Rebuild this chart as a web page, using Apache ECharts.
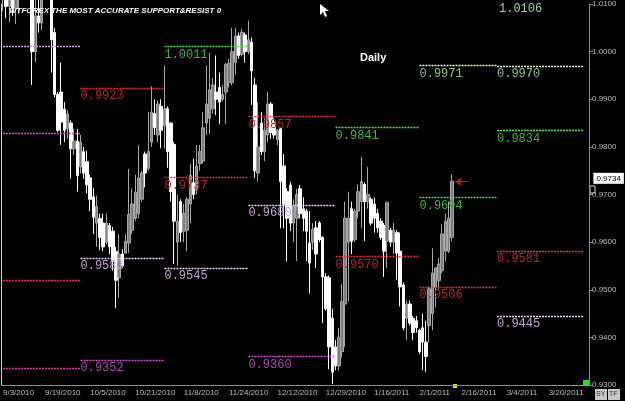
<!DOCTYPE html>
<html>
<head>
<meta charset="utf-8">
<script src="https://cdn.jsdelivr.net/npm/echarts@6.0.0/dist/echarts.min.js"></script>
<style>
  html, body { margin: 0; padding: 0; background: #000; }
  #chart { width: 625px; height: 401px; }
</style>
</head>
<body>
<div id="chart"></div>
<script>
// daily bars, 6 per week (Sun-Fri), 9/3/2010 is slot 0
var barCount = 182;
var tickPos = [0, 13, 27, 41, 56, 70, 85, 100, 115, 129, 142, 156, 169];
var tickLabels = ['9/3/2010', '9/19/2010', '10/5/2010', '10/21/2010', '11/8/2010', '11/24/2010',
  '12/12/2010', '12/29/2010', '1/16/2011', '2/1/2011', '2/16/2011', '3/4/2011', '3/20/2011'];

var opens = [
  1.0130, 1.0160, 1.0095, 1.0140, 1.0090, 1.0120, 1.0155, 1.0180, 1.0195, 1.0150,
  1.0000, 1.0075, 1.0060, 1.0120, 1.0160, 1.0130, 1.0040, 0.9910, 0.9915, 0.9879,
  0.9838, 0.9850, 0.9796, 0.9812, 0.9758, 0.9790, 0.9769, 0.9735, 0.9695, 0.9640,
  0.9650, 0.9640, 0.9600, 0.9635, 0.9623, 0.9580, 0.9525, 0.9575, 0.9577, 0.9598,
  0.9625, 0.9650, 0.9660, 0.9690, 0.9785, 0.9755, 0.9810, 0.9870, 0.9825, 0.9885,
  0.9845, 0.9880, 0.9850, 0.9805, 0.9600, 0.9685, 0.9623, 0.9625, 0.9680, 0.9725,
  0.9710, 0.9765, 0.9770, 0.9850, 0.9860, 0.9880, 0.9915, 0.9925, 0.9900, 0.9915,
  0.9935, 0.9935, 0.9977, 1.0033, 0.9994, 1.0035, 1.0000, 1.0020, 0.9930, 0.9745,
  0.9850, 0.9790, 0.9825, 0.9890, 0.9852, 0.9815, 0.9838, 0.9760, 0.9706, 0.9720,
  0.9640, 0.9650, 0.9712, 0.9670, 0.9665, 0.9598, 0.9600, 0.9630, 0.9640, 0.9610,
  0.9527, 0.9525, 0.9440, 0.9380, 0.9340, 0.9370, 0.9470, 0.9600, 0.9670, 0.9605,
  0.9665, 0.9685, 0.9721, 0.9685, 0.9690, 0.9680, 0.9660, 0.9644, 0.9635, 0.9602,
  0.9625, 0.9600, 0.9620, 0.9581, 0.9510, 0.9440, 0.9470, 0.9440, 0.9435, 0.9415,
  0.9420, 0.9390, 0.9425, 0.9450, 0.9505, 0.9519, 0.9540, 0.9581, 0.9581, 0.9610
];
var closes = [
  1.0160, 1.0095, 1.0140, 1.0090, 1.0120, 1.0155, 1.0180, 1.0195, 1.0150, 1.0000,
  1.0075, 1.0060, 1.0120, 1.0160, 1.0130, 1.0025, 0.9910, 0.9835, 0.9852, 0.9835,
  0.9869, 0.9796, 0.9812, 0.9740, 0.9810, 0.9745, 0.9720, 0.9690, 0.9652, 0.9675,
  0.9610, 0.9590, 0.9640, 0.9590, 0.9560, 0.9520, 0.9575, 0.9550, 0.9602, 0.9658,
  0.9680, 0.9705, 0.9735, 0.9745, 0.9745, 0.9790, 0.9873, 0.9840, 0.9890, 0.9835,
  0.9880, 0.9790, 0.9706, 0.9644, 0.9644, 0.9620, 0.9660, 0.9690, 0.9740, 0.9700,
  0.9760, 0.9790, 0.9840, 0.9890, 0.9920, 0.9930, 0.9900, 0.9894, 0.9910, 0.9973,
  0.9975, 1.0000, 1.0033, 0.9992, 1.0040, 1.0000, 1.0025, 0.9960, 0.9750, 0.9800,
  0.9790, 0.9835, 0.9890, 0.9830, 0.9825, 0.9835, 0.9727, 0.9680, 0.9650, 0.9640,
  0.9675, 0.9700, 0.9660, 0.9650, 0.9623, 0.9556, 0.9627, 0.9575, 0.9605, 0.9527,
  0.9460, 0.9380, 0.9327, 0.9340, 0.9400, 0.9475, 0.9650, 0.9650, 0.9602, 0.9665,
  0.9706, 0.9727, 0.9685, 0.9700, 0.9640, 0.9650, 0.9630, 0.9610, 0.9581, 0.9683,
  0.9600, 0.9625, 0.9577, 0.9506, 0.9420, 0.9470, 0.9430, 0.9410, 0.9420, 0.9370,
  0.9390, 0.9360, 0.9502, 0.9535, 0.9546, 0.9554, 0.9617, 0.9644, 0.9650, 0.9728
];
var lows = [
  1.0085, 1.0070, 1.0062, 1.0075, 1.0058, 1.0080, 1.0120, 1.0140, 1.0135, 0.9930,
  0.9978, 1.0040, 1.0045, 1.0110, 1.0108, 0.9956, 0.9904, 0.9831, 0.9804, 0.9810,
  0.9817, 0.9733, 0.9783, 0.9706, 0.9744, 0.9733, 0.9702, 0.9665, 0.9617, 0.9590,
  0.9583, 0.9581, 0.9595, 0.9575, 0.9540, 0.9461, 0.9483, 0.9545, 0.9575, 0.9577,
  0.9617, 0.9644, 0.9650, 0.9685, 0.9715, 0.9750, 0.9800, 0.9825, 0.9810, 0.9797,
  0.9796, 0.9756, 0.9685, 0.9554, 0.9550, 0.9600, 0.9600, 0.9581, 0.9640, 0.9690,
  0.9700, 0.9750, 0.9765, 0.9825, 0.9827, 0.9870, 0.9867, 0.9848, 0.9896, 0.9848,
  0.9925, 0.9929, 0.9952, 0.9985, 0.9990, 0.9977, 0.9995, 0.9888, 0.9735, 0.9727,
  0.9783, 0.9770, 0.9810, 0.9817, 0.9817, 0.9804, 0.9629, 0.9629, 0.9560, 0.9623,
  0.9600, 0.9560, 0.9650, 0.9623, 0.9560, 0.9492, 0.9583, 0.9546, 0.9600, 0.9430,
  0.9456, 0.9333, 0.9302, 0.9331, 0.9330, 0.9358, 0.9380, 0.9475, 0.9575, 0.9600,
  0.9650, 0.9630, 0.9602, 0.9670, 0.9635, 0.9620, 0.9620, 0.9605, 0.9527, 0.9546,
  0.9590, 0.9575, 0.9521, 0.9465, 0.9415, 0.9394, 0.9425, 0.9394, 0.9410, 0.9365,
  0.9331, 0.9327, 0.9390, 0.9415, 0.9463, 0.9502, 0.9535, 0.9560, 0.9577, 0.9602
];
var highs = [
  1.0175, 1.0190, 1.0150, 1.0165, 1.0130, 1.0170, 1.0195, 1.0215, 1.0230, 1.0165,
  1.0110, 1.0140, 1.0140, 1.0180, 1.0175, 1.0145, 1.0050, 0.9915, 0.9977, 0.9894,
  0.9877, 0.9856, 0.9838, 0.9838, 0.9825, 0.9800, 0.9792, 0.9742, 0.9714, 0.9698,
  0.9660, 0.9660, 0.9660, 0.9640, 0.9632, 0.9590, 0.9617, 0.9585, 0.9617, 0.9754,
  0.9712, 0.9742, 0.9804, 0.9750, 0.9790, 0.9873, 0.9927, 0.9900, 0.9897, 0.9900,
  0.9971, 0.9885, 0.9852, 0.9810, 0.9700, 0.9690, 0.9680, 0.9694, 0.9765, 0.9775,
  0.9804, 0.9804, 0.9873, 0.9971, 0.9998, 0.9945, 0.9992, 0.9956, 0.9930, 0.9977,
  0.9985, 1.0050, 1.0050, 1.0040, 1.0048, 1.0040, 1.0065, 1.0030, 0.9945, 0.9894,
  0.9873, 0.9860, 0.9915, 0.9894, 0.9860, 0.9838, 0.9840, 0.9785, 0.9713, 0.9727,
  0.9690, 0.9712, 0.9720, 0.9694, 0.9670, 0.9665, 0.9640, 0.9644, 0.9644, 0.9612,
  0.9535, 0.9530, 0.9460, 0.9394, 0.9420, 0.9512, 0.9685, 0.9706, 0.9685, 0.9670,
  0.9721, 0.9779, 0.9725, 0.9758, 0.9694, 0.9694, 0.9670, 0.9650, 0.9640, 0.9685,
  0.9630, 0.9640, 0.9625, 0.9620, 0.9515, 0.9477, 0.9477, 0.9445, 0.9445, 0.9418,
  0.9450, 0.9435, 0.9506, 0.9587, 0.9546, 0.9567, 0.9637, 0.9660, 0.9685, 0.9742
];
var lastPrice = 0.9734;
var topLevelText = '1.0106';

// monthly support / resistance levels
var monthStart = [0, 24, 50, 76, 103, 129, 153, 180];
var levelMonth = [0, 0, 0, 0, 1, 1, 1, 2, 2, 2, 3, 3, 3, 4, 4, 5, 5, 5, 6, 6, 6, 6];
var levelValue = [1.0012, 0.9828, 0.9520, 0.9335,
  0.9923, 0.9567, 0.9352,
  1.0011, 0.9736, 0.9545,
  0.9864, 0.9678, 0.9360,
  0.9841, 0.9570,
  0.9971, 0.9694, 0.9506,
  0.9970, 0.9834, 0.9581, 0.9445];
var levelText = ['', '', '', '',
  '0.9923', '0.9583', '0.9352',
  '1.0011', '0.9737', '0.9545',
  '0.9857', '0.9680', '0.9360',
  '0.9841', '0.9570',
  '0.9971', '0.9694', '0.9506',
  '0.9970', '0.9834', '0.9581', '0.9445'];
var levelKind = ['s1', 's2', 's3', 's4',
  'r', 'l', 'm',
  'g', 'r', 'l',
  'r', 'l', 'm',
  'g', 'r',
  'c', 'g', 'r',
  'c', 'g', 'r', 'l'];

var kindStyle = {
  s1: { line: '#e0a0f0', text: '#e0a0f0' },
  s2: { line: '#e040e0', text: '#e040e0' },
  s3: { line: '#e03070', text: '#e03070' },
  s4: { line: '#dd33aa', text: '#dd33aa' },
  r: { line: '#e83434', text: '#b02a2a' },
  l: { line: '#f4d8ff', text: '#c8a0d8' },
  m: { line: '#d850d8', text: '#a848b0' },
  g: { line: '#4ee84e', text: '#48b048' },
  c: { line: '#fafad8', text: '#98c078' }
};

var categories = [];
for (var i = 0; i < barCount; i++) categories.push('b' + i);

var candles = opens.map(function (o, k) {
  return [o, closes[k], lows[k], highs[k]];
});

var lines = levelValue.map(function (v, k) {
  var st = kindStyle[levelKind[k]];
  var m = levelMonth[k];
  return [{
    coord: [monthStart[m], v],
    lineStyle: { color: st.line, type: [2, 1], width: 1.4 },
    label: {
      show: levelText[k] !== '',
      formatter: levelText[k],
      position: 'insideStartBottom',
      color: st.text,
      distance: [0, 2],
      fontFamily: 'Liberation Mono',
      fontSize: 12
    }
  }, { coord: [monthStart[m + 1], v] }];
});

// current price tag at the axis
lines.push([{
  coord: [150, lastPrice],
  lineStyle: { color: 'rgba(0,0,0,0)', width: 0 },
  label: {
    show: true, position: 'end', formatter: lastPrice.toFixed(4),
    backgroundColor: '#fff', color: '#000', padding: [2, 3, 1, 3],
    fontFamily: 'Liberation Sans', fontSize: 8, distance: 6
  }
}, { coord: [181, lastPrice] }]);
// the little arrow next to the last bar
lines.push([{
  coord: [140, 0.9727],
  symbol: 'arrow', symbolSize: 7,
  lineStyle: { color: '#b81c1c', type: 'solid', width: 1 },
  label: { show: false }
}, { coord: [144, 0.9727] }]);

var chart = echarts.init(document.getElementById('chart'), null, { renderer: 'canvas' });

var option = {
  backgroundColor: '#000',
  animation: false,
  title: [{
    text: 'WTFOREX THE MOST ACCURATE SUPPORT&RESIST 0',
    left: 4, top: 2,
    textStyle: { color: '#fff', fontSize: 8, fontStyle: 'italic', fontWeight: 'bold', fontFamily: 'Liberation Sans' }
  }, {
    text: 'Daily',
    left: 355, top: 47,
    textStyle: { color: '#fff', fontSize: 11, fontWeight: 'bold', fontFamily: 'Liberation Sans' }
  }],
  grid: { left: 1, right: 36, top: 1, bottom: 16 },
  xAxis: {
    type: 'category',
    data: categories,
    boundaryGap: true,
    axisLine: { lineStyle: { color: '#8c8c8c' } },
    axisTick: {
      alignWithLabel: true, length: 3, lineStyle: { color: '#8c8c8c' },
      interval: function (idx) { return tickPos.indexOf(idx) >= 0; }
    },
    axisLabel: {
      color: '#bdbdbd', fontSize: 8, fontFamily: 'Liberation Sans', align: 'left', margin: 4,
      interval: function (idx) { return tickPos.indexOf(idx) >= 0; },
      formatter: function (val, idx) { return tickLabels[tickPos.indexOf(idx)]; }
    },
    splitLine: { show: false }
  },
  yAxis: [{
    type: 'value',
    position: 'right',
    min: 0.93, max: 1.01, interval: 0.01,
    axisLine: { show: true, lineStyle: { color: '#8c8c8c' } },
    axisTick: { show: true, length: 4, lineStyle: { color: '#8c8c8c' } },
    axisLabel: {
      color: '#bdbdbd', fontSize: 8, fontFamily: 'Liberation Sans', margin: 3,
      formatter: function (v) { return v.toFixed(4); }
    },
    splitLine: { show: false }
  }, {
    type: 'value',
    position: 'left',
    min: 0.93, max: 1.01,
    axisLine: { show: true, lineStyle: { color: '#cfcfcf' } },
    axisTick: { show: false },
    axisLabel: { show: false },
    splitLine: { show: false }
  }],
  series: [{
    type: 'candlestick',
    data: candles,
    barWidth: 3,
    clip: true,
    itemStyle: {
      color: '#7e7e7e',
      color0: '#ffffff',
      borderColor: '#a8a8a8',
      borderColor0: '#ffffff',
      borderWidth: 1
    },
    markLine: {
      silent: true,
      symbol: ['none', 'none'],
      animation: false,
      data: lines
    }
  }],
  graphic: [
    { type: 'text', x: 499, y: 3, style: { text: topLevelText, fill: '#a8d0a0', font: '12px Liberation Mono' } },
    { type: 'rect', shape: { x: 583, y: 380, width: 6, height: 6 }, style: { fill: '#19e619' } },
    { type: 'rect', shape: { x: 453, y: 384, width: 4, height: 4 }, style: { fill: '#e6e640' } },
    { type: 'rect', shape: { x: 590, y: 186, width: 5, height: 7 }, style: { fill: '#000', stroke: '#cfcfcf', lineWidth: 1 } },
    { type: 'polygon', shape: { points: [[320, 4], [320, 15], [323, 12], [325, 17], [327, 16], [325, 11], [329, 11]] }, style: { fill: '#fff' } },
    { type: 'rect', shape: { x: 595, y: 389, width: 12, height: 11 }, style: { fill: '#c8c8c8' } },
    { type: 'rect', shape: { x: 608, y: 389, width: 12, height: 11 }, style: { fill: '#c8c8c8' } },
    { type: 'text', x: 596, y: 391, style: { text: 'SY', fill: '#333', font: '7px Liberation Sans' } },
    { type: 'text', x: 609, y: 391, style: { text: 'TF', fill: '#333', font: '7px Liberation Sans' } }
  ]
};

chart.setOption(option);
</script>
</body>
</html>
